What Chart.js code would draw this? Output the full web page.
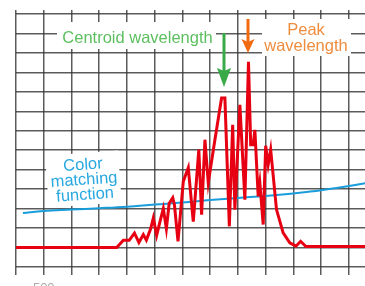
<!DOCTYPE html>
<html>
<head>
<meta charset="utf-8">
<script src="https://cdn.jsdelivr.net/npm/chart.js@4.4.1/dist/chart.umd.min.js"></script>
<style>
html, body { margin: 0; padding: 0; background: #fff; overflow: hidden; }
#wrap { width: 365px; height: 286px; overflow: hidden; }
</style>
</head>
<body>
<div id="wrap"><canvas id="one" width="365" height="308"></canvas></div>
<script>
// wavelength (nm) of the measured spectrum, and its relative level
const redX = [490, 526.3, 528.7, 530.8, 532.7, 534.3, 535.9, 537.0, 538.5, 539.5, 540.7,
  541.9, 543.1, 544.2, 545.2, 546.5, 547.1, 548.4, 550.3, 552.1, 553.9, 555.9, 556.9,
  558.1, 559.3, 561.7, 564.1, 565.3, 566.9, 568.1, 568.9, 570.7, 572.5, 573.8, 574.6,
  575.5, 576.1, 577.3, 577.9, 579.1, 580.0, 580.9, 581.8, 583.9, 586.3, 588.7, 590.9,
  592.6, 594.5, 616];
const redY = [1.0, 1.0, 1.37, 1.37, 1.74, 1.26, 1.67, 1.38, 1.95, 2.52, 1.62,
  2.33, 3.0, 1.97, 3.26, 3.56, 3.21, 1.32, 4.4, 5.1, 2.33, 6.03, 2.69,
  6.54, 4.33, 6.54, 8.68, 8.68, 2.09, 7.31, 2.95, 8.33, 3.46, 10.55, 6.28,
  6.28, 7.05, 3.63, 4.32, 2.18, 6.23, 5.26, 6.03, 2.95, 1.75, 1.24, 1.07,
  1.32, 1.05, 1.05];

// colour matching function
const blueX = [492.5, 500, 510, 520, 530, 540, 550, 560, 570, 580, 590, 600, 610, 616];
const blueY = [2.77, 2.88, 2.95, 3.02, 3.10, 3.21, 3.31, 3.44, 3.55, 3.65, 3.78, 3.94, 4.16, 4.31];

// grid and tick labels
const gridX = [490, 500, 510, 520, 530, 540, 550, 560, 570, 580, 590, 600, 610];
const tickText = ['', '500', '', '', '', '', '', '', '', '', '', '', ''];

const centroidWl = 565.0;
const peakWl = 573.8;

const ctx = document.getElementById('one');

function arrow(c, x, y0, y1, head, half, color) {
  c.strokeStyle = color;
  c.fillStyle = color;
  c.lineWidth = 3;
  c.beginPath();
  c.moveTo(x, y0);
  c.lineTo(x, y1 - head + 3);
  c.stroke();
  c.beginPath();
  c.moveTo(x - half, y1 - head);
  c.lineTo(x, y1 - head + 3);
  c.lineTo(x + half, y1 - head);
  c.lineTo(x, y1);
  c.closePath();
  c.fill();
}

const notes = {
  id: 'notes',
  beforeDatasetsDraw(chart) {
    const c = chart.ctx;
    const x = chart.scales.x;
    c.save();
    c.fillStyle = '#fff';
    c.fillRect(57, 22, 159, 27);
    c.fillRect(262, 19, 89, 37);

    c.font = '16.5px "Liberation Sans", Arial, sans-serif';
    c.textAlign = 'center';
    c.textBaseline = 'alphabetic';
    c.fillStyle = '#5cbf5f';
    c.fillText('Centroid wavelength', 137.5, 43);
    c.fillStyle = '#ef8d3f';
    c.fillText('Peak', 306, 35);
    c.fillText('wavelength', 306, 51);

    // tilted label for the blue curve
    c.save();
    c.translate(84, 180);
    c.rotate(-0.07);
    c.fillStyle = '#fff';
    c.fillRect(-37, -27, 73, 52);
    c.fillStyle = '#2aa8e0';
    c.fillText('Color', 0, -10.3);
    c.fillText('matching', 0, 4.7);
    c.fillText('function', 0, 19.7);
    c.restore();

    arrow(c, Math.round(x.getPixelForValue(centroidWl)), 33, 87, 19, 7, '#3aaa48');
    arrow(c, Math.round(x.getPixelForValue(peakWl)), 19, 53, 14, 6.5, '#f26b0f');
    c.restore();
  }
};

const gridColor = 'rgba(50,50,50,0.8)';

new Chart(ctx, {
  type: 'scatter',
  data: {
    datasets: [{
      label: 'Spectrum',
      data: redX.map((v, i) => ({x: v, y: redY[i]})),
      showLine: true,
      borderColor: '#e60012',
      borderWidth: 3,
      borderJoinStyle: 'miter',
      pointRadius: 0,
      tension: 0
    }, {
      label: 'Color matching function',
      data: blueX.map((v, i) => ({x: v, y: blueY[i]})),
      showLine: true,
      borderColor: '#1a9ddb',
      borderWidth: 2,
      pointRadius: 0,
      tension: 0.4
    }]
  },
  options: {
    responsive: false,
    animation: false,
    layout: { padding: { left: 16, top: 10, right: 0, bottom: 0 } },
    plugins: { legend: { display: false }, tooltip: { enabled: false } },
    scales: {
      x: {
        type: 'linear',
        min: 490,
        max: 615.8,
        afterBuildTicks: axis => { axis.ticks = gridX.map(v => ({value: v})); },
        afterFit: axis => { axis.height = 41; },
        border: { display: false },
        grid: { color: gridColor, lineWidth: 1.5, tickLength: 8 },
        ticks: {
          autoSkip: false,
          maxRotation: 0,
          padding: 6,
          color: '#aaa',
          font: { family: '"Liberation Sans", Arial, sans-serif', size: 13 },
          callback: (v, i) => tickText[i]
        }
      },
      xTop: {
        type: 'linear',
        position: 'top',
        min: 490,
        max: 615.8,
        afterBuildTicks: axis => { axis.ticks = gridX.map(v => ({value: v})); },
        border: { display: false },
        grid: { color: gridColor, lineWidth: 1.5, tickLength: 4, drawOnChartArea: false },
        ticks: { display: false }
      },
      y: {
        min: 0,
        max: 13,
        border: { display: false },
        grid: { color: gridColor, lineWidth: 1.5, drawTicks: false },
        ticks: { display: false, stepSize: 1 }
      }
    }
  },
  plugins: [notes]
});
</script>
</body>
</html>
